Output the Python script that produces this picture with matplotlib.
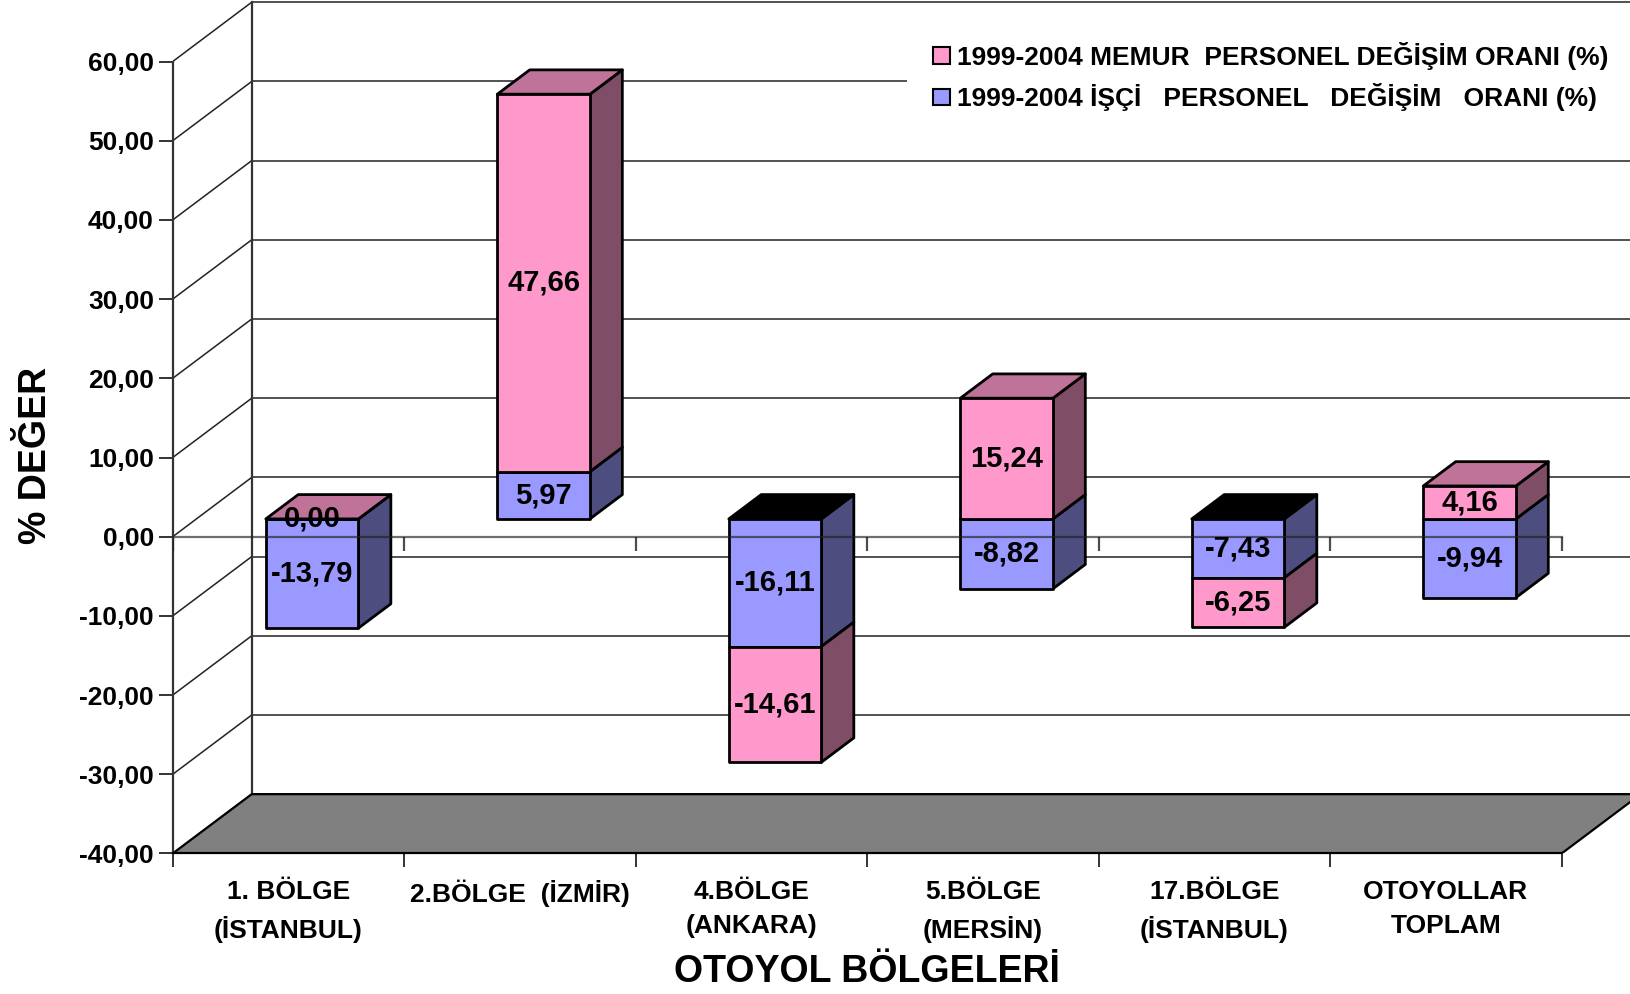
import matplotlib
matplotlib.use("Agg")
import matplotlib.pyplot as plt
from matplotlib.patches import Polygon, Patch

# --- data ---
regions = ["1. BÖLGE\n(İSTANBUL)", "2.BÖLGE  (İZMİR)", "4.BÖLGE\n(ANKARA)",
           "5.BÖLGE\n(MERSİN)", "17.BÖLGE\n(İSTANBUL)", "OTOYOLLAR\nTOPLAM"]
isci = [-13.79, 5.97, -16.11, -8.82, -7.43, -9.94]
memur = [0.00, 47.66, -14.61, 15.24, -6.25, 4.16]
y_ticks = [-40, -30, -20, -10, 0, 10, 20, 30, 40, 50, 60]

memur_label = "1999-2004 MEMUR  PERSONEL DEĞİŞİM ORANI (%)"
isci_label = "1999-2004 İŞÇİ   PERSONEL   DEĞİŞİM   ORANI (%)"

# colours (front, side, top)
MEMUR = ("#FF99CC", "#804D66", "#BF7399")
ISCI = ("#9999FF", "#4D4D80", "#000000")

plt.rcParams['font.family'] = ['Liberation Sans', 'DejaVu Sans']
plt.rcParams['font.weight'] = 'bold'

# 3d look: depth offset of the back wall, in data units
DX = 0.3413
DY = 7.49
Z0, Z1 = 0.30, 0.71      # depth of bar front / back
BW = 0.4                 # bar width (fraction of a category)


def proj(x, v, z):
    return (x + z * DX, v + z * DY)


fig = plt.figure(figsize=(16.3, 9.94), dpi=100)
ax = fig.add_axes([0.10595, 0.14135, 0.89405, 0.85865])
ax.set_xlim(0, 6.2953)
ax.set_ylim(-40, 67.77)

n = len(regions)
ymin, ymax = y_ticks[0], y_ticks[-1]

# back wall gridlines and left wall diagonals
for v in y_ticks:
    ax.plot([DX, n + DX + 1], [v + DY, v + DY], color="#222222", lw=1.1, zorder=1)
    ax.plot([0, DX], [v, v + DY], color="#222222", lw=1.1, zorder=1)
ax.plot([DX, DX], [ymin + DY, ymax + DY], color="#333333", lw=1.6, zorder=1)

# floor
floor = [proj(0, ymin, 0), proj(n, ymin, 0), proj(n, ymin, 1), proj(0, ymin, 1)]
ax.add_patch(Polygon(floor, closed=True, facecolor="#808080", edgecolor="black",
                     lw=1.6, zorder=1.5))


def face(pts, color, z):
    ax.add_patch(Polygon(pts, closed=True, facecolor=color, edgecolor="black",
                         lw=2.0, joinstyle="round", zorder=z))


for i in range(n):
    # stacked like excel: positives and negatives stack separately
    pos, neg = 0.0, 0.0
    segs = []
    for val, cols in ((isci[i], ISCI), (memur[i], MEMUR)):
        if val >= 0:
            segs.append((pos, pos + val, val, cols))
            pos += val
        else:
            segs.append((neg + val, neg, val, cols))
            neg += val
    x0 = i + (1 - BW) / 2
    x1 = x0 + BW
    for b, t, val, cols in segs:
        face([proj(x0, b, Z0), proj(x1, b, Z0), proj(x1, t, Z0), proj(x0, t, Z0)],
             cols[0], 4)
        face([proj(x1, b, Z0), proj(x1, b, Z1), proj(x1, t, Z1), proj(x1, t, Z0)],
             cols[1], 3)
        lx, ly = proj((x0 + x1) / 2, (b + t) / 2, Z0)
        ax.text(lx, ly, f"{val:.2f}".replace(".", ","), ha="center", va="center",
                fontsize=21, fontweight="bold", zorder=12)
    # top face of the highest segment
    top_seg = max(segs, key=lambda s: (s[1], s[3] is MEMUR))
    t = top_seg[1]
    face([proj(x0, t, Z0), proj(x1, t, Z0), proj(x1, t, Z1), proj(x0, t, Z1)],
         top_seg[3][2], 3.5)

# category axis at zero, drawn over the bars
ax.plot([0, n], [0, 0], color="#202020", lw=1.6, alpha=0.65, zorder=10)
ax.vlines(range(n + 1), -1.75, 0, color="#202020", lw=1.6, alpha=0.8, zorder=10)

# axes
for s in ("top", "right"):
    ax.spines[s].set_visible(False)
ax.spines["left"].set_bounds(ymin, ymax)
ax.spines["bottom"].set_bounds(0, n)
ax.spines["left"].set_linewidth(1.6)
ax.spines["left"].set_color("#333333")
ax.spines["bottom"].set_linewidth(1.6)

ax.set_yticks(y_ticks)
ax.set_yticklabels([f"{v:.2f}".replace(".", ",") for v in y_ticks])
ax.tick_params(axis="y", length=10, width=1.4, pad=3.5, labelsize=19, color="#333333")

ax.set_xticks(range(n + 1))
ax.set_xticklabels([])
ax.set_xticks([k + 0.5 for k in range(n)], minor=True)
ax.set_xticklabels(regions, minor=True)
ax.tick_params(axis="x", which="major", length=10, width=1.4, color="#333333")
ax.tick_params(axis="x", which="minor", length=0, pad=19, labelsize=19)
for lab in ax.get_xticklabels(minor=True):
    lab.set_linespacing(1.55)

ax.set_xlabel("OTOYOL BÖLGELERİ", fontsize=27, fontweight="bold", va="center")
ax.xaxis.set_label_coords(3 / 6.2953, -0.1388)
ax.set_ylabel("% DEĞER", fontsize=27, fontweight="bold", va="center")
ax.yaxis.set_label_coords(-0.0938, 0.4669)

handles = [Patch(facecolor=MEMUR[0], edgecolor="black", lw=1.5, label=memur_label),
           Patch(facecolor=ISCI[0], edgecolor="black", lw=1.5, label=isci_label)]
leg = ax.legend(handles=handles, loc="upper left", bbox_to_anchor=(0.5562, 0.9845),
                bbox_transform=fig.transFigure, borderaxespad=0, borderpad=1.0,
                handlelength=0.64, handleheight=0.57, handletextpad=0.27,
                labelspacing=0.5, fontsize=19, frameon=True, fancybox=False)
leg.get_frame().set_facecolor("white")
leg.get_frame().set_edgecolor("none")
leg.get_frame().set_alpha(1)
leg.set_zorder(20)
for txt in leg.get_texts():
    txt.set_fontweight("bold")

fig.savefig("out.png", dpi=100)
